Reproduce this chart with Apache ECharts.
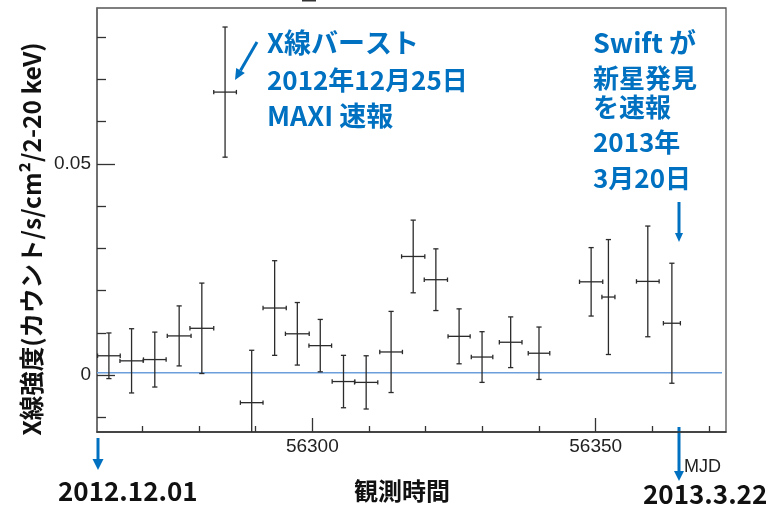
<!DOCTYPE html>
<html>
<head>
<meta charset="utf-8">
<script src="https://cdn.jsdelivr.net/npm/echarts@6/dist/echarts.min.js"></script>
<style>
  html, body { margin: 0; padding: 0; background: #fff; }
  #chart { width: 767px; height: 508px; }
</style>
</head>
<body>
<div id="chart"></div>
<script>
// MAXI 2-20 keV light curve, one bin per ~4 days
const mjd = [56264.1, 56268.1, 56272.2, 56276.5, 56280.5, 56284.6, 56289.3, 56293.35,
             56297.35, 56301.4, 56305.5, 56309.5, 56313.9, 56317.8, 56321.8, 56325.9,
             56329.95, 56335.0, 56340.0, 56349.2, 56352.25, 56359.2, 56363.45];
const mjdHalfWidth = [2, 2.05, 2, 2.1, 2.1, 2, 2, 2.05, 2.1, 2, 2, 2.05, 2, 2.05, 2.05,
                      1.95, 1.9, 2, 1.9, 2.05, 1.15, 2, 1.5];
const flux = [0.0046, 0.0034, 0.0037, 0.0093, 0.0111, 0.0670, -0.0065, 0.0159, 0.0098,
              0.0070, -0.0015, -0.0017, 0.0055, 0.0281, 0.0226, 0.0092, 0.0043, 0.0078,
              0.0052, 0.0221, 0.0185, 0.0222, 0.0123];
const fluxErr = [0.0054, 0.0076, 0.0065, 0.0071, 0.0107, 0.0154, 0.0124, 0.0112, 0.0074,
                 0.0062, 0.0062, 0.0063, 0.0096, 0.0086, 0.0073, 0.0065, 0.0060, 0.0060,
                 0.0062, 0.0081, 0.0136, 0.0131, 0.0142];

// axis ranges: 2012.12.01 (MJD 56262) to 2013.3.22 (MJD 56373)
const xRange = [56262, 56373];
const yRange = [-0.01344, 0.0869];
const baseline = 0.0006;

const minorXTicks = [56270, 56280, 56290, 56310, 56320, 56330, 56340, 56360, 56370];
const majorXTicks = [56300, 56350];
const xTickLabels = ['56300', '56350'];
const minorYTicks = [-0.01, 0.01, 0.02, 0.03, 0.04, 0.06, 0.07, 0.08];
const majorYTicks = [0, 0.05];
const yTickLabels = ['0', '0.05'];

const BLUE = '#0070C0';
const JP = '"Noto Sans CJK JP", "Noto Sans", sans-serif';
const LAT = '"Liberation Sans", Arial, sans-serif';

const points = mjd.map((t, i) => [t, flux[i], mjdHalfWidth[i], fluxErr[i]]);

function renderErrorBar(params, api) {
  const x = api.value(0), y = api.value(1), xe = api.value(2), ye = api.value(3);
  const top = api.coord([x, y + ye]);
  const bot = api.coord([x, y - ye]);
  const lft = api.coord([x - xe, y]);
  const rgt = api.coord([x + xe, y]);
  const style = { stroke: '#2b2b2b', lineWidth: 1.3 };
  const seg = (x1, y1, x2, y2) => ({ type: 'line', shape: { x1, y1, x2, y2 }, style });
  const cw = 2.6, ch = 2.2;
  return {
    type: 'group',
    children: [
      seg(top[0], top[1], bot[0], bot[1]),
      seg(top[0] - cw, top[1], top[0] + cw, top[1]),
      seg(bot[0] - cw, bot[1], bot[0] + cw, bot[1]),
      seg(lft[0], lft[1], rgt[0], rgt[1]),
      seg(lft[0], lft[1] - ch, lft[0], lft[1] + ch),
      seg(rgt[0], rgt[1] - ch, rgt[0], rgt[1] + ch)
    ]
  };
}

function arrow(x1, y1, x2, y2, headLen, headW) {
  const dx = x2 - x1, dy = y2 - y1;
  const len = Math.sqrt(dx * dx + dy * dy);
  const ux = dx / len, uy = dy / len;
  const bx = x2 - ux * headLen, by = y2 - uy * headLen;
  const px = -uy * headW / 2, py = ux * headW / 2;
  return {
    type: 'group',
    children: [
      { type: 'line', shape: { x1, y1, x2: bx, y2: by }, style: { stroke: BLUE, lineWidth: 3 } },
      { type: 'polygon', shape: { points: [[x2, y2], [bx + px, by + py], [bx - px, by - py]] },
        style: { fill: BLUE } }
    ]
  };
}

function label(text, x, y, size, color, weight, family, align) {
  return {
    type: 'text', x, y,
    style: {
      text, fill: color, font: weight + ' ' + size + 'px ' + family,
      textAlign: align || 'left', textVerticalAlign: 'middle'
    }
  };
}

const chart = echarts.init(document.getElementById('chart'), null, { renderer: 'canvas' });

const axisBase = { type: 'value', min: xRange[0], max: xRange[1], splitLine: { show: false } };
const yBase = { type: 'value', min: yRange[0], max: yRange[1], splitLine: { show: false } };

chart.setOption({
  animation: false,
  backgroundColor: '#fff',
  grid: {
    left: 97, top: 8, right: 41, bottom: 76,
    show: true, borderColor: '#555', borderWidth: 1.3, backgroundColor: 'transparent'
  },
  xAxis: [
    Object.assign({}, axisBase, {
      position: 'bottom',
      axisLine: { show: true, onZero: false, lineStyle: { color: '#333', width: 1.5 } },
      axisTick: { show: true, inside: true, length: 6, customValues: minorXTicks,
                  lineStyle: { color: '#333', width: 1.3 } },
      axisLabel: { show: false }
    }),
    Object.assign({}, axisBase, {
      position: 'bottom',
      axisLine: { show: false, onZero: false },
      axisTick: { show: true, inside: true, length: 14, customValues: majorXTicks,
                  lineStyle: { color: '#333', width: 1.3 } },
      axisLabel: {
        show: true, customValues: majorXTicks, margin: 5,
        formatter: v => xTickLabels[majorXTicks.indexOf(v)],
        fontFamily: LAT, fontSize: 19, color: '#222'
      }
    })
  ],
  yAxis: [
    Object.assign({}, yBase, {
      position: 'left',
      axisLine: { show: true, onZero: false, lineStyle: { color: '#666', width: 1.5 } },
      axisTick: { show: true, inside: true, length: 9, customValues: minorYTicks,
                  lineStyle: { color: '#333', width: 1.3 } },
      axisLabel: { show: false }
    }),
    Object.assign({}, yBase, {
      position: 'left',
      axisLine: { show: false, onZero: false },
      axisTick: { show: true, inside: true, length: 18, customValues: majorYTicks,
                  lineStyle: { color: '#333', width: 1.3 } },
      axisLabel: {
        show: true, customValues: majorYTicks, margin: 6,
        formatter: v => yTickLabels[majorYTicks.indexOf(v)],
        fontFamily: LAT, fontSize: 19, color: '#222'
      }
    })
  ],
  series: [
    {
      type: 'line', xAxisIndex: 0, yAxisIndex: 0, silent: true, showSymbol: false,
      data: [[xRange[0], baseline], [xRange[1] - 0.7, baseline]],
      lineStyle: { color: '#6b9edb', width: 1.5 }, z: 1
    },
    {
      type: 'custom', xAxisIndex: 0, yAxisIndex: 0, clip: true,
      renderItem: renderErrorBar, data: points, z: 3
    }
  ],
  graphic: [
    { type: 'rect', shape: { x: 302, y: 0, width: 14, height: 1.5 }, style: { fill: '#333' } },
    {
      type: 'text', x: 32, y: 239, rotation: Math.PI / 2,
      style: {
        text: 'X線強度(カウント/s/cm²/2-20 keV)', fill: '#111',
        font: 'bold 24.5px ' + JP, textAlign: 'center', textVerticalAlign: 'middle'
      }
    },
    label('X線バースト', 267, 43, 27, BLUE, 'bold', JP),
    label('2012年12月25日', 267, 80, 26, BLUE, 'bold', JP),
    label('MAXI 速報', 267, 116, 27, BLUE, 'bold', JP),
    arrow(257, 42, 235, 80, 11, 10),
    label('Swift が', 593, 43, 27, BLUE, 'bold', JP),
    label('新星発見', 593, 78, 26, BLUE, 'bold', JP),
    label('を速報', 593, 107.5, 26, BLUE, 'bold', JP),
    label('2013年', 593, 141.7, 26, BLUE, 'bold', JP),
    label('3月20日', 593, 178, 26, BLUE, 'bold', JP),
    arrow(679, 202, 679, 242, 9, 8),
    arrow(98, 438, 98, 470, 11, 11),
    arrow(679, 427, 679, 481, 10, 10),
    label('2012.12.01', 58, 491, 26, '#111', 'bold', JP),
    label('観測時間', 354, 491, 24, '#111', 'bold', JP),
    label('2013.3.22', 643, 494, 26, '#111', 'bold', JP),
    label('MJD', 684, 467, 18, '#222', 'normal', LAT)
  ]
});
</script>
</body>
</html>
